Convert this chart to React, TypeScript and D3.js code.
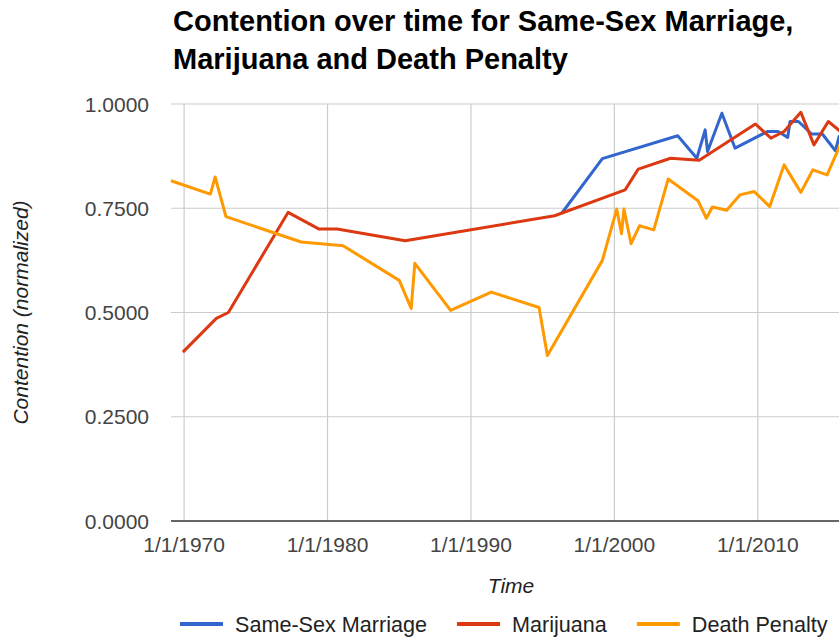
import { useEffect, useRef } from "react";
import * as d3 from "d3";

const seriesNames = ["Same-Sex Marriage", "Marijuana", "Death Penalty"];
const seriesColors = ["#3366cc", "#dc3912", "#ff9900"];

const marriageDates = [
    "1996-05", "1999-03", "2004-06", "2005-10", "2006-05", "2006-07", "2007-07",
    "2008-06", "2010-09", "2011-06", "2012-02", "2012-04", "2012-11", "2013-10",
    "2014-07", "2015-06", "2015-09", "2016-07",
];
const marriageValues = [
    0.738, 0.869, 0.924, 0.87, 0.938, 0.886, 0.978,
    0.894, 0.934, 0.934, 0.92, 0.958, 0.958, 0.928,
    0.928, 0.888, 0.922, 0.93,
];

const marijuanaDates = [
    "1969-12", "1972-04", "1973-02", "1977-04", "1979-06", "1980-09", "1985-06",
    "1995-11", "2000-10", "2001-09", "2003-12", "2005-12", "2009-11", "2010-12",
    "2011-11", "2013-01", "2013-12", "2014-12", "2015-12", "2016-07",
];
const marijuanaValues = [
    0.405, 0.486, 0.5, 0.74, 0.7, 0.7, 0.672,
    0.732, 0.794, 0.844, 0.87, 0.865, 0.952, 0.918,
    0.934, 0.98, 0.902, 0.958, 0.93, 0.9,
];

const deathDates = [
    "1969-02", "1971-11", "1972-03", "1972-12", "1978-03", "1981-02", "1985-01",
    "1985-11", "1986-02", "1988-08", "1991-06", "1994-10", "1995-05", "1999-03",
    "2000-03", "2000-07", "2000-09", "2001-03", "2001-10", "2002-10", "2003-10",
    "2005-11", "2006-06", "2006-11", "2007-11", "2008-10", "2009-10", "2010-11",
    "2011-11", "2013-01", "2013-11", "2014-11", "2015-10", "2016-07",
];
const deathValues = [
    0.816, 0.784, 0.825, 0.73, 0.669, 0.66, 0.577,
    0.51, 0.618, 0.505, 0.549, 0.512, 0.397, 0.625,
    0.748, 0.689, 0.748, 0.665, 0.708, 0.698, 0.82,
    0.768, 0.726, 0.753, 0.745, 0.782, 0.79, 0.754,
    0.854, 0.788, 0.842, 0.83, 0.902, 0.94,
];

const xTickYears = [1970, 1980, 1990, 2000, 2010];
const yTicks = [0, 0.25, 0.5, 0.75, 1];

const titleLines = [
    "Contention over time for Same-Sex Marriage,",
    "Marijuana and Death Penalty",
];

const FONT = "Arial, 'Liberation Sans', sans-serif";

const App = () => {
    const ref = useRef<HTMLDivElement>(null);

    useEffect(() => {
        document.body.style.margin = "0";

        const parse = d3.utcParse("%Y-%m");
        const series = [
            { dates: marriageDates, values: marriageValues },
            { dates: marijuanaDates, values: marijuanaValues },
            { dates: deathDates, values: deathValues },
        ].map((s, i) => ({
            name: seriesNames[i],
            color: seriesColors[i],
            points: s.dates.map((d, j) => ({ date: parse(d) as Date, value: s.values[j] })),
        }));

        const width = 839;
        const height = 638;
        const left = 171;
        const right = 851;
        const top = 104;
        const bottom = 521;

        const allDates = series.flatMap((s) => s.points.map((p) => p.date));
        const x = d3.scaleUtc(d3.extent(allDates) as [Date, Date], [left, right]);
        const y = d3.scaleLinear([0, 1], [bottom, top]);

        const svg = d3
            .create("svg")
            .attr("width", width)
            .attr("height", height)
            .attr("viewBox", [0, 0, width, height])
            .style("display", "block")
            .style("background", "#fff")
            .attr("font-family", FONT);

        // title
        svg.append("g")
            .selectAll("text")
            .data(titleLines)
            .join("text")
            .attr("x", 173)
            .attr("y", (_, i) => 31 + i * 37.5)
            .attr("font-size", 29)
            .attr("font-weight", "bold")
            .attr("fill", "#000")
            .text((d) => d);

        // horizontal grid + y labels
        const yg = svg.append("g");
        yg.selectAll("line")
            .data(yTicks.filter((t) => t > 0))
            .join("line")
            .attr("x1", left)
            .attr("x2", right)
            .attr("y1", (d) => y(d))
            .attr("y2", (d) => y(d))
            .attr("stroke", "#cccccc")
            .attr("stroke-width", 1.2);
        yg.selectAll("text")
            .data(yTicks)
            .join("text")
            .attr("x", 149)
            .attr("y", (d) => y(d))
            .attr("dy", "0.36em")
            .attr("text-anchor", "end")
            .attr("font-size", 21)
            .attr("fill", "#444")
            .text((d) => d3.format(".4f")(d));

        // vertical grid + x labels
        const xg = svg.append("g");
        const tickDates = xTickYears.map((yr) => new Date(Date.UTC(yr, 0, 1)));
        xg.selectAll("line")
            .data(tickDates)
            .join("line")
            .attr("x1", (d) => x(d))
            .attr("x2", (d) => x(d))
            .attr("y1", top)
            .attr("y2", bottom)
            .attr("stroke", "#cccccc")
            .attr("stroke-width", 1.2);
        xg.selectAll("text")
            .data(tickDates)
            .join("text")
            .attr("x", (d) => x(d))
            .attr("y", 552)
            .attr("text-anchor", "middle")
            .attr("font-size", 21)
            .attr("fill", "#444")
            .text((d) => `1/1/${d.getUTCFullYear()}`);

        // lines
        const line = d3
            .line<{ date: Date; value: number }>()
            .x((d) => x(d.date))
            .y((d) => y(d.value));

        svg.append("g")
            .selectAll("path")
            .data(series)
            .join("path")
            .attr("fill", "none")
            .attr("stroke", (d) => d.color)
            .attr("stroke-width", 3)
            .attr("stroke-linejoin", "round")
            .attr("d", (d) => line(d.points));

        // baseline
        svg.append("line")
            .attr("x1", left)
            .attr("x2", right)
            .attr("y1", y(0))
            .attr("y2", y(0))
            .attr("stroke", "#333")
            .attr("stroke-width", 1.5);

        // axis titles
        svg.append("text")
            .attr("x", (left + right) / 2)
            .attr("y", 593)
            .attr("text-anchor", "middle")
            .attr("font-size", 21)
            .attr("font-style", "italic")
            .attr("fill", "#222")
            .text("Time");

        svg.append("text")
            .attr("transform", `translate(28,${(top + bottom) / 2}) rotate(-90)`)
            .attr("text-anchor", "middle")
            .attr("font-size", 21)
            .attr("font-style", "italic")
            .attr("fill", "#222")
            .text("Contention (normalized)");

        if (ref.current) {
            ref.current.innerHTML = "";
            ref.current.appendChild(svg.node() as Node);
        }

        // legend (measured after the svg is in the page)
        const legend = svg.append("g").attr("transform", "translate(180,624)");
        let offset = 0;
        series.forEach((s) => {
            const item = legend.append("g").attr("transform", `translate(${offset},0)`);
            item.append("line")
                .attr("x1", 0)
                .attr("x2", 43)
                .attr("stroke", s.color)
                .attr("stroke-width", 4);
            const t = item.append("text")
                .attr("x", 55)
                .attr("dy", "0.36em")
                .attr("font-size", 21.6)
                .attr("fill", "#222")
                .text(s.name);
            const w = (t.node() as SVGTextElement).getComputedTextLength();
            offset += 55 + w + 30;
        });
    }, []);

    return <div ref={ref}></div>;
};

export default App;
